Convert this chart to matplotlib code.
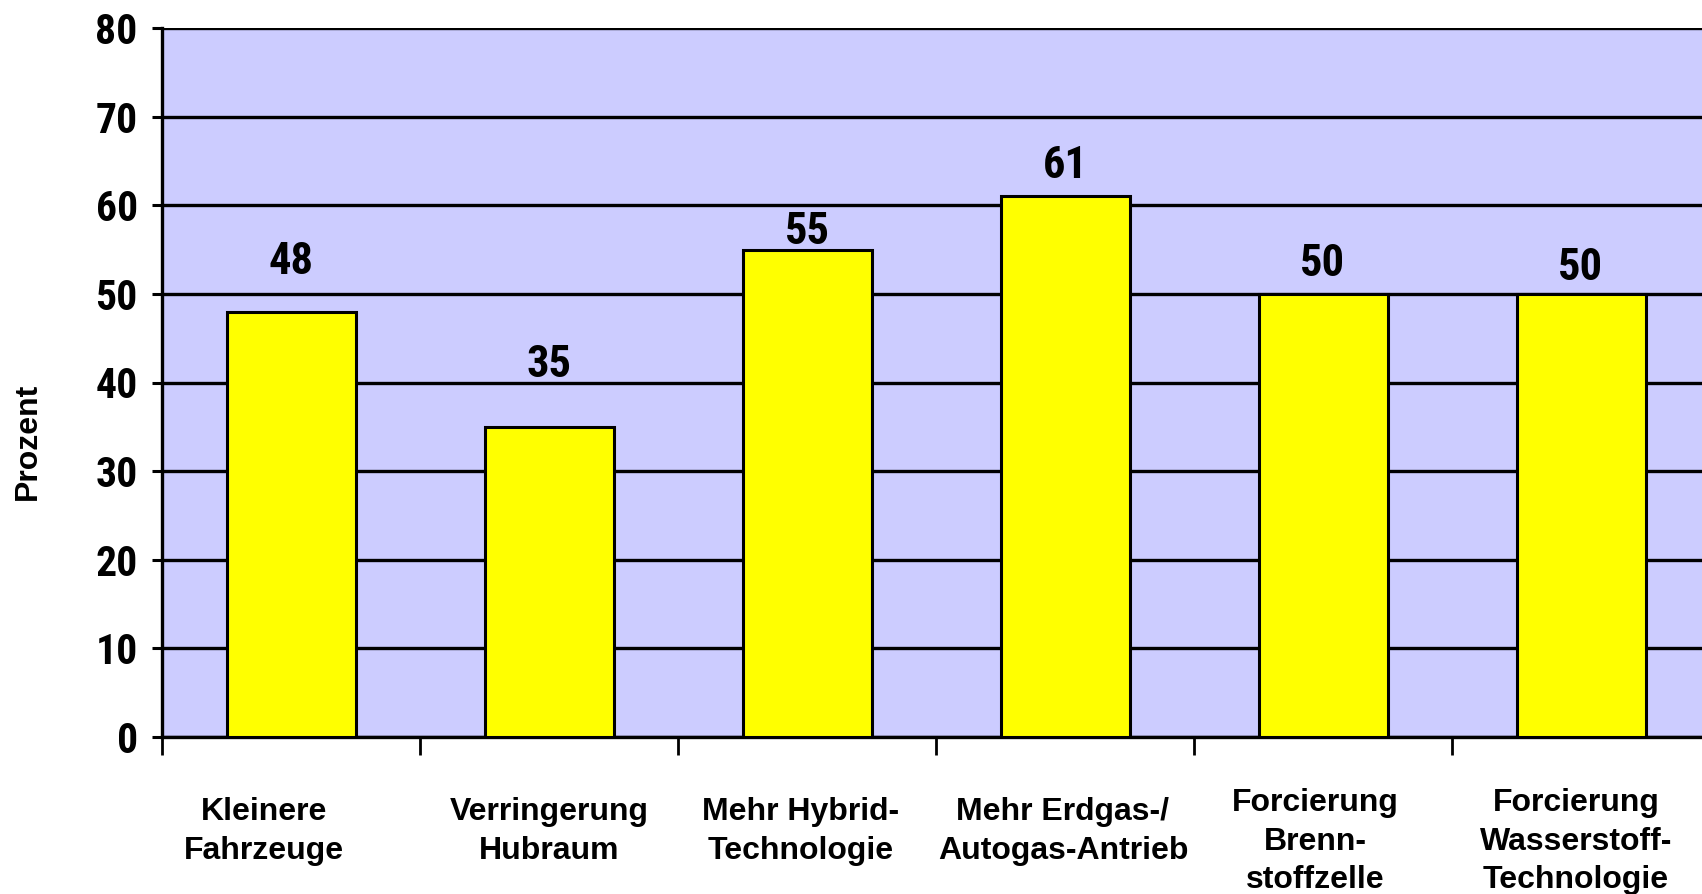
import matplotlib
matplotlib.use("Agg")
import matplotlib.pyplot as plt
import matplotlib.transforms as mtransforms

categories = [
    "Kleinere\nFahrzeuge",
    "Verringerung\nHubraum",
    "Mehr Hybrid-\nTechnologie",
    "Mehr Erdgas-/\nAutogas-Antrieb",
    "Forcierung\nBrenn-\nstoffzelle",
    "Forcierung\nWasserstoff-\nTechnologie",
]
values = [48, 35, 55, 61, 50, 50]
yticks = [0, 10, 20, 30, 40, 50, 60, 70, 80]

# hand placement of the labels in the original (pixels)
label_gap_px = [50, 62, 18, 30, 30, 26]
cat_dx_px = [-27, 0, -6, -2, -8, -5]
cat_top_px = [60, 60, 60, 60, 51, 51]

narrow = "Roboto Condensed"
regular = "Liberation Sans"

W, H, DPI = 1702, 894, 100
fig = plt.figure(figsize=(W / DPI, H / DPI), dpi=DPI)
left, bottom, top = 162, 737, 28
cat_w = 258
ax = fig.add_axes([left / W, 1 - bottom / H, 6 * cat_w / W, (bottom - top) / H])
ax.set_facecolor("#CCCCFF")

x = list(range(len(values)))
ax.bar(x, values, width=0.5, color="#FFFF00", edgecolor="black", linewidth=2.2, zorder=3)

ax.set_xlim(-0.5, 5.5)
ax.set_ylim(0, 80)
ax.set_yticks(yticks)
ax.set_yticklabels([str(t) for t in yticks], fontfamily=narrow, fontweight="bold", fontsize=30)
ax.yaxis.grid(True, color="black", linewidth=2.4, zorder=1)
ax.set_axisbelow(True)

# ticks between the categories, labels under the bars
ax.set_xticks([i - 0.5 for i in range(7)])
ax.set_xticklabels([])
ax.tick_params(axis="x", length=13, width=2, direction="out")
ax.tick_params(axis="y", length=7.5, width=2.2, direction="out", pad=10)

for xi, cat, dx, dy in zip(x, categories, cat_dx_px, cat_top_px):
    off = mtransforms.ScaledTranslation(dx / DPI, -dy / DPI, fig.dpi_scale_trans)
    ax.text(xi, 0, cat, transform=ax.get_xaxis_transform() + off, ha="center", va="top",
            fontfamily=regular, fontweight="bold", fontsize=23, linespacing=1.37)

for s in ["top", "right"]:
    ax.spines[s].set_visible(False)
for s in ["left", "bottom"]:
    ax.spines[s].set_linewidth(2.4)

for xi, v, gap in zip(x, values, label_gap_px):
    ax.annotate(str(v), (xi, v), xytext=(0, gap * 72 / DPI), textcoords="offset points",
                ha="center", va="center", fontfamily=narrow, fontweight="bold", fontsize=32)

fig.text(28 / W, 1 - 441 / H, "Prozent", rotation=90, ha="center", va="center",
         fontfamily=regular, fontweight="bold", fontsize=23)

fig.savefig("out.png", dpi=DPI)
